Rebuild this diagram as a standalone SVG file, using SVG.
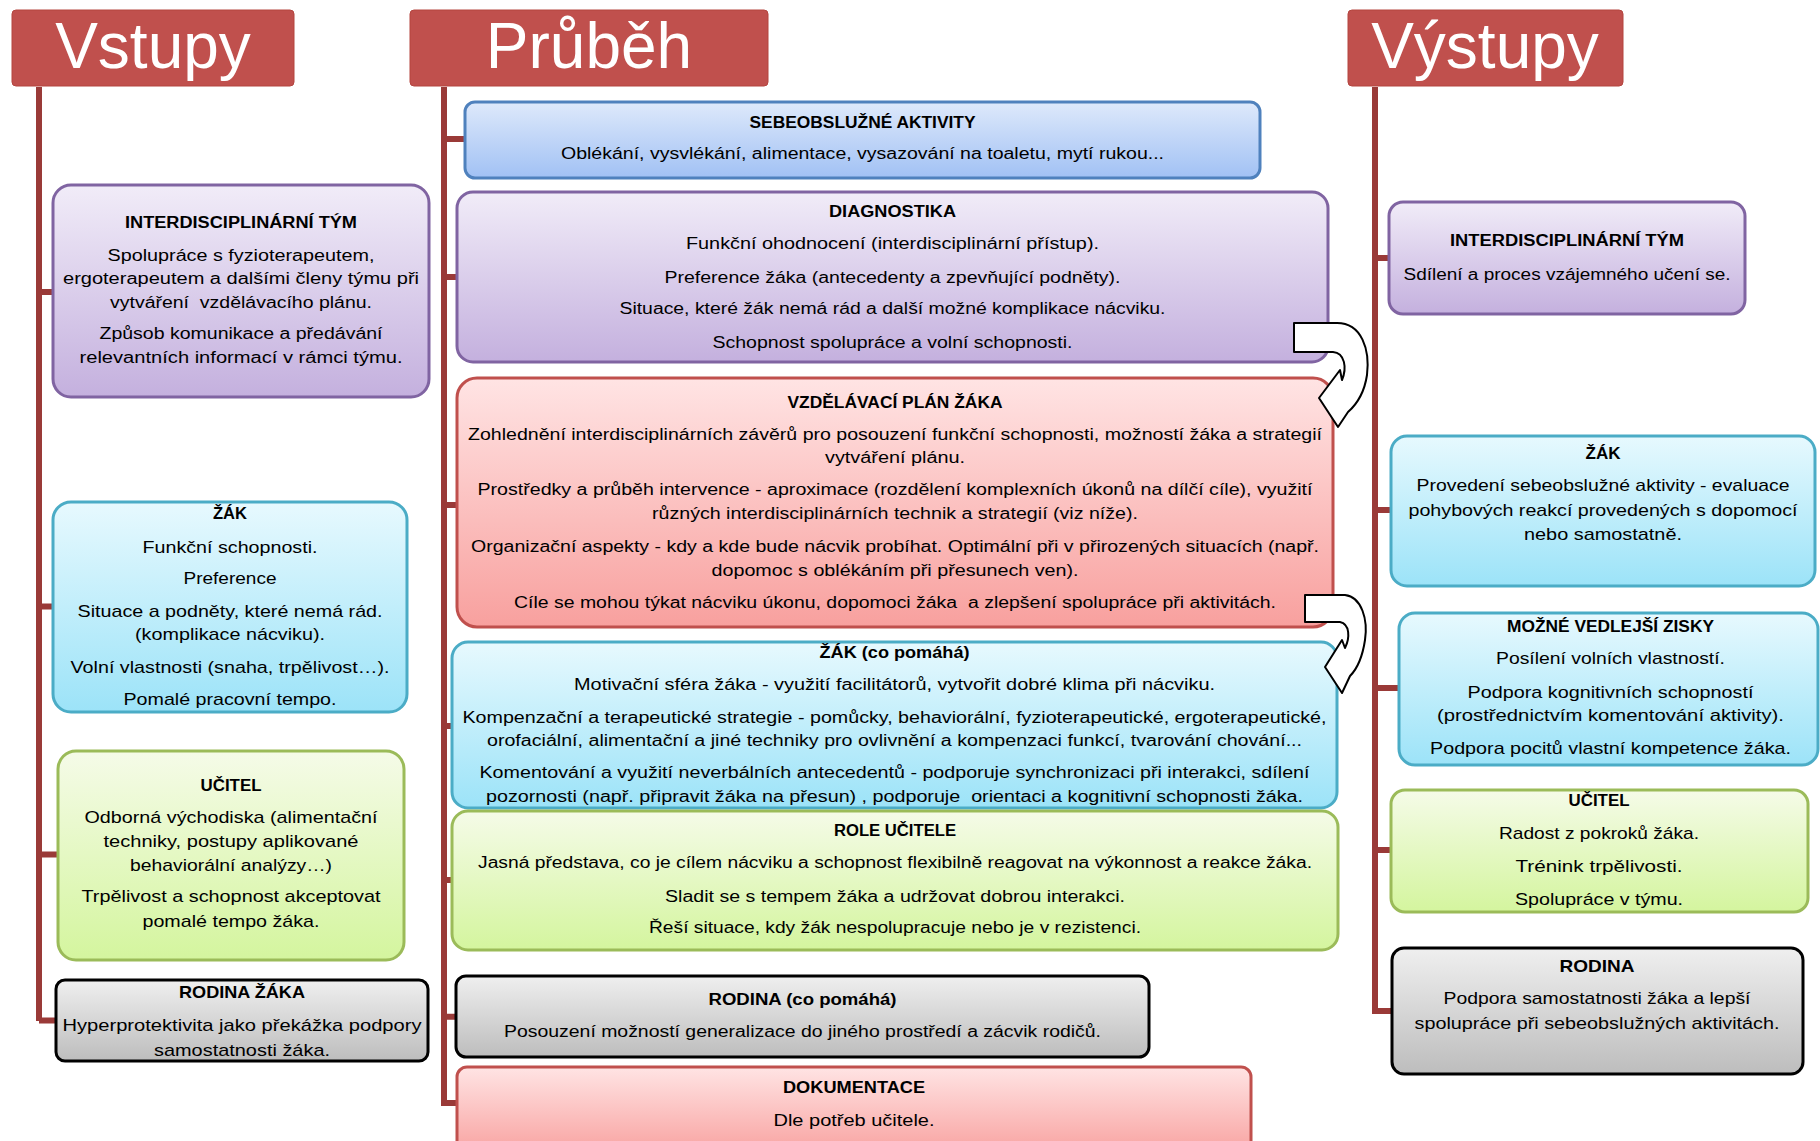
<svg xmlns="http://www.w3.org/2000/svg" width="1820" height="1141" viewBox="0 0 1820 1141">
<defs>
<linearGradient id="gPur" x1="0" y1="0" x2="0" y2="1"><stop offset="0" stop-color="#F1ECF8"/><stop offset="1" stop-color="#C4B0DE"/></linearGradient>
<linearGradient id="gCyan" x1="0" y1="0" x2="0" y2="1"><stop offset="0" stop-color="#E7F9FE"/><stop offset="1" stop-color="#9CE3F8"/></linearGradient>
<linearGradient id="gGrn" x1="0" y1="0" x2="0" y2="1"><stop offset="0" stop-color="#F5FBE8"/><stop offset="1" stop-color="#D4F59E"/></linearGradient>
<linearGradient id="gPink" x1="0" y1="0" x2="0" y2="1"><stop offset="0" stop-color="#FFE4E4"/><stop offset="1" stop-color="#F8A09E"/></linearGradient>
<linearGradient id="gGray" x1="0" y1="0" x2="0" y2="1"><stop offset="0" stop-color="#EFEFEF"/><stop offset="1" stop-color="#BDBDBD"/></linearGradient>
<linearGradient id="gBlue" x1="0" y1="0" x2="0" y2="1"><stop offset="0" stop-color="#DEE9FB"/><stop offset="1" stop-color="#A1C1F4"/></linearGradient>
</defs>
<style>
text{font-family:"Liberation Sans",Arial,sans-serif;font-size:16px;fill:#000;text-anchor:middle}
.b{font-weight:bold}
.w{font-size:17px}
.hdr{font-size:64px;fill:#fff}
.hbox{fill:#C0504D;stroke:#B4453F;stroke-width:1}
.pur{fill:url(#gPur);stroke:#8064A2;stroke-width:3}
.cyan{fill:url(#gCyan);stroke:#4BACC6;stroke-width:3}
.grn{fill:url(#gGrn);stroke:#9BBB59;stroke-width:3}
.pink{fill:url(#gPink);stroke:#C0504D;stroke-width:3}
.gray{fill:url(#gGray);stroke:#000;stroke-width:3}
.blue{fill:url(#gBlue);stroke:#4F81BD;stroke-width:3}
.ln{fill:none;stroke:#9A3A38;stroke-width:6}
.arr{fill:#fff;stroke:#000;stroke-width:2;stroke-linejoin:round}
</style>

<g id="connectors">
<path class="ln" d="M39,87 V1021 M39,292 H54 M39,606.5 H54 M39,854.6 H59 M39,1020.5 H57"/>
<path class="ln" d="M444,87 V1106 M444,139 H466 M444,277 H458 M444,505 H458 M444,726 H453 M444,880 H453 M444,1016.7 H457 M444,1103 H458"/>
<path class="ln" d="M1375,87 V1014 M1375,258 H1390 M1375,510 H1392 M1375,688 H1400 M1375,850 H1392 M1375,1011 H1393"/>
</g>

<g id="hdr-vstupy"><rect class="hbox" x="12" y="10" width="282" height="76" rx="4"/><text class="hdr" x="153" y="68">Vstupy</text></g>
<g id="hdr-prubeh"><rect class="hbox" x="410" y="10" width="358" height="76" rx="4"/><text class="hdr" x="589" y="68">Průběh</text></g>
<g id="hdr-vystupy"><rect class="hbox" x="1348" y="10" width="275" height="76" rx="4"/><text class="hdr" x="1485" y="68">Výstupy</text></g>

<g id="in-tym"><rect class="pur" x="53" y="185" width="376" height="212" rx="18"/>
<text class="b" x="241" y="227.5" textLength="232" lengthAdjust="spacingAndGlyphs">INTERDISCIPLINÁRNÍ TÝM</text>
<text x="241" y="260.5" textLength="267" lengthAdjust="spacingAndGlyphs">Spolupráce s fyzioterapeutem,</text>
<text x="241" y="283.5" textLength="356" lengthAdjust="spacingAndGlyphs">ergoterapeutem a dalšími členy týmu při</text>
<text x="241" y="307.5" textLength="262" lengthAdjust="spacingAndGlyphs">vytváření&#160; vzdělávacího plánu.</text>
<text x="241" y="338.5" textLength="283" lengthAdjust="spacingAndGlyphs">Způsob komunikace a předávání</text>
<text x="241" y="362.5" textLength="323" lengthAdjust="spacingAndGlyphs">relevantních informací v rámci týmu.</text>
</g>

<g id="in-zak"><rect class="cyan" x="53" y="502" width="354" height="210" rx="18"/>
<text class="b w" x="230" y="518.5" textLength="34" lengthAdjust="spacingAndGlyphs">ŽÁK</text>
<text class="w" x="230" y="552.5" textLength="175" lengthAdjust="spacingAndGlyphs">Funkční schopnosti.</text>
<text class="w" x="230" y="584" textLength="93" lengthAdjust="spacingAndGlyphs">Preference</text>
<text class="w" x="230" y="617" textLength="305" lengthAdjust="spacingAndGlyphs">Situace a podněty, které nemá rád.</text>
<text class="w" x="230" y="640" textLength="190" lengthAdjust="spacingAndGlyphs">(komplikace nácviku).</text>
<text class="w" x="230" y="673" textLength="319" lengthAdjust="spacingAndGlyphs">Volní vlastnosti (snaha, trpělivost…).</text>
<text class="w" x="230" y="705" textLength="213" lengthAdjust="spacingAndGlyphs">Pomalé pracovní tempo.</text>
</g>

<g id="in-ucitel"><rect class="grn" x="58" y="751" width="346" height="209" rx="18"/>
<text class="b w" x="231" y="791" textLength="61" lengthAdjust="spacingAndGlyphs">UČITEL</text>
<text class="w" x="231" y="823" textLength="293" lengthAdjust="spacingAndGlyphs">Odborná východiska (alimentační</text>
<text class="w" x="231" y="847" textLength="255" lengthAdjust="spacingAndGlyphs">techniky, postupy aplikované</text>
<text class="w" x="231" y="870.6" textLength="202" lengthAdjust="spacingAndGlyphs">behaviorální analýzy…)</text>
<text class="w" x="231" y="902" textLength="299" lengthAdjust="spacingAndGlyphs">Trpělivost a schopnost akceptovat</text>
<text class="w" x="231" y="927" textLength="177" lengthAdjust="spacingAndGlyphs">pomalé tempo žáka.</text>
</g>

<g id="in-rodina"><rect class="gray" x="56" y="980" width="372" height="81" rx="9"/>
<text class="b w" x="242" y="997.5" textLength="126" lengthAdjust="spacingAndGlyphs">RODINA ŽÁKA</text>
<text class="w" x="242" y="1030.8" textLength="359" lengthAdjust="spacingAndGlyphs">Hyperprotektivita jako překážka podpory</text>
<text class="w" x="242" y="1055.8" textLength="176" lengthAdjust="spacingAndGlyphs">samostatnosti žáka.</text>
</g>

<g id="pr-sebe"><rect class="blue" x="465" y="102" width="795" height="76" rx="10"/>
<text class="b" x="862.5" y="128" textLength="226" lengthAdjust="spacingAndGlyphs">SEBEOBSLUŽNÉ AKTIVITY</text>
<text x="862.5" y="159" textLength="603" lengthAdjust="spacingAndGlyphs">Oblékání, vysvlékání, alimentace, vysazování na toaletu, mytí rukou...</text>
</g>

<g id="pr-diag"><rect class="pur" x="457" y="192" width="871" height="170" rx="16"/>
<text class="b" x="892.5" y="216.5" textLength="127" lengthAdjust="spacingAndGlyphs">DIAGNOSTIKA</text>
<text x="892.5" y="248.5" textLength="413" lengthAdjust="spacingAndGlyphs">Funkční ohodnocení (interdisciplinární přístup).</text>
<text x="892.5" y="282.5" textLength="456" lengthAdjust="spacingAndGlyphs">Preference žáka (antecedenty a zpevňující podněty).</text>
<text x="892.5" y="313.5" textLength="546" lengthAdjust="spacingAndGlyphs">Situace, které žák nemá rád a další možné komplikace nácviku.</text>
<text x="892.5" y="347.5" textLength="360" lengthAdjust="spacingAndGlyphs">Schopnost spolupráce a volní schopnosti.</text>
</g>

<g id="pr-plan"><rect class="pink" x="457" y="378" width="876" height="249" rx="20"/>
<text class="b" x="895" y="407.5" textLength="215" lengthAdjust="spacingAndGlyphs">VZDĚLÁVACÍ PLÁN ŽÁKA</text>
<text x="895" y="439.5" textLength="854" lengthAdjust="spacingAndGlyphs">Zohlednění interdisciplinárních závěrů pro posouzení funkční schopnosti, možností žáka a strategií</text>
<text x="895" y="462.5" textLength="140" lengthAdjust="spacingAndGlyphs">vytváření plánu.</text>
<text x="895" y="494.5" textLength="835" lengthAdjust="spacingAndGlyphs">Prostředky a průběh intervence - aproximace (rozdělení komplexních úkonů na dílčí cíle), využití</text>
<text x="895" y="518.5" textLength="486" lengthAdjust="spacingAndGlyphs">různých interdisciplinárních technik a strategií (viz níže).</text>
<text x="895" y="551.5" textLength="848" lengthAdjust="spacingAndGlyphs">Organizační aspekty - kdy a kde bude nácvik probíhat. Optimální při v přirozených situacích (např.</text>
<text x="895" y="575.5" textLength="367" lengthAdjust="spacingAndGlyphs">dopomoc s oblékáním při přesunech ven).</text>
<text x="895" y="607.5" textLength="762" lengthAdjust="spacingAndGlyphs">Cíle se mohou týkat nácviku úkonu, dopomoci žáka&#160; a zlepšení spolupráce při aktivitách.</text>
</g>

<g id="pr-zak"><rect class="cyan" x="452" y="642" width="885" height="166" rx="16"/>
<text class="b" x="894.5" y="658" textLength="150" lengthAdjust="spacingAndGlyphs">ŽÁK (co pomáhá)</text>
<text x="894.5" y="689.5" textLength="641" lengthAdjust="spacingAndGlyphs">Motivační sféra žáka - využití facilitátorů, vytvořit dobré klima při nácviku.</text>
<text x="894.5" y="723" textLength="864" lengthAdjust="spacingAndGlyphs">Kompenzační a terapeutické strategie - pomůcky, behaviorální, fyzioterapeutické, ergoterapeutické,</text>
<text x="894.5" y="746" textLength="815" lengthAdjust="spacingAndGlyphs">orofaciální, alimentační a jiné techniky pro ovlivnění a kompenzaci funkcí, tvarování chování...</text>
<text x="894.5" y="778" textLength="830" lengthAdjust="spacingAndGlyphs">Komentování a využití neverbálních antecedentů - podporuje synchronizaci při interakci, sdílení</text>
<text x="894.5" y="802" textLength="817" lengthAdjust="spacingAndGlyphs">pozornosti (např. připravit žáka na přesun) , podporuje&#160; orientaci a kognitivní schopnosti žáka.</text>
</g>

<g id="pr-role"><rect class="grn" x="452" y="811" width="886" height="139" rx="16"/>
<text class="b" x="895" y="835.5" textLength="122" lengthAdjust="spacingAndGlyphs">ROLE UČITELE</text>
<text x="895" y="868" textLength="834" lengthAdjust="spacingAndGlyphs">Jasná představa, co je cílem nácviku a schopnost flexibilně reagovat na výkonnost a reakce žáka.</text>
<text x="895" y="901.5" textLength="460" lengthAdjust="spacingAndGlyphs">Sladit se s tempem žáka a udržovat dobrou interakci.</text>
<text x="895" y="932.5" textLength="492" lengthAdjust="spacingAndGlyphs">Řeší situace, kdy žák nespolupracuje nebo je v rezistenci.</text>
</g>

<g id="pr-rodina"><rect class="gray" x="456" y="976" width="693" height="81" rx="10"/>
<text class="b" x="802.5" y="1004.5" textLength="188" lengthAdjust="spacingAndGlyphs">RODINA (co pomáhá)</text>
<text x="802.5" y="1037" textLength="597" lengthAdjust="spacingAndGlyphs">Posouzení možností generalizace do jiného prostředí a zácvik rodičů.</text>
</g>

<g id="pr-dok"><rect class="pink" x="457" y="1067" width="794" height="90" rx="10"/>
<text class="b" x="854" y="1092.5" textLength="142" lengthAdjust="spacingAndGlyphs">DOKUMENTACE</text>
<text x="854" y="1125.5" textLength="161" lengthAdjust="spacingAndGlyphs">Dle potřeb učitele.</text>
</g>

<g id="arrow-1"><path class="arr" d="M1294,323 L1337,323 C1362,323 1370,350 1367,375 C1364,395 1356,405 1348,412 L1338,427 L1319,398 L1340,370 L1342,380 C1347,368 1345,353 1333,352 L1294,352 Z"/></g>
<g id="arrow-2"><path class="arr" d="M1305,595 L1345,595 C1362,597 1368,620 1365,640 C1362,660 1356,670 1350,676 L1342,693 L1325,667 L1342,640 L1345,648 C1350,638 1350,624 1340,622 L1305,622 Z"/></g>

<g id="out-tym"><rect class="pur" x="1389" y="202" width="356" height="112" rx="14"/>
<text class="b" x="1567" y="246" textLength="234" lengthAdjust="spacingAndGlyphs">INTERDISCIPLINÁRNÍ TÝM</text>
<text x="1567" y="279.5" textLength="327" lengthAdjust="spacingAndGlyphs">Sdílení a proces vzájemného učení se.</text>
</g>

<g id="out-zak"><rect class="cyan" x="1391" y="436" width="424" height="150" rx="16"/>
<text class="b w" x="1603" y="458.5" textLength="35" lengthAdjust="spacingAndGlyphs">ŽÁK</text>
<text class="w" x="1603" y="491" textLength="373" lengthAdjust="spacingAndGlyphs">Provedení sebeobslužné aktivity - evaluace</text>
<text class="w" x="1603" y="516" textLength="389" lengthAdjust="spacingAndGlyphs">pohybových reakcí provedených s dopomocí</text>
<text class="w" x="1603" y="540" textLength="158" lengthAdjust="spacingAndGlyphs">nebo samostatně.</text>
</g>

<g id="out-zisky"><rect class="cyan" x="1399" y="613" width="419" height="152" rx="16"/>
<text class="b w" x="1610.5" y="632" textLength="207" lengthAdjust="spacingAndGlyphs">MOŽNÉ VEDLEJŠÍ ZISKY</text>
<text class="w" x="1610.5" y="664" textLength="229" lengthAdjust="spacingAndGlyphs">Posílení volních vlastností.</text>
<text class="w" x="1610.5" y="697.5" textLength="286" lengthAdjust="spacingAndGlyphs">Podpora kognitivních schopností</text>
<text class="w" x="1610.5" y="721" textLength="347" lengthAdjust="spacingAndGlyphs">(prostřednictvím komentování aktivity).</text>
<text class="w" x="1610.5" y="753.5" textLength="361" lengthAdjust="spacingAndGlyphs">Podpora pocitů vlastní kompetence žáka.</text>
</g>

<g id="out-ucitel"><rect class="grn" x="1391" y="790" width="417" height="122" rx="14"/>
<text class="b w" x="1599" y="806" textLength="61" lengthAdjust="spacingAndGlyphs">UČITEL</text>
<text class="w" x="1599" y="838.5" textLength="200" lengthAdjust="spacingAndGlyphs">Radost z pokroků žáka.</text>
<text class="w" x="1599" y="871.5" textLength="167" lengthAdjust="spacingAndGlyphs">Trénink trpělivosti.</text>
<text class="w" x="1599" y="904.5" textLength="168" lengthAdjust="spacingAndGlyphs">Spolupráce v týmu.</text>
</g>

<g id="out-rodina"><rect class="gray" x="1392" y="948" width="411" height="126" rx="12"/>
<text class="b w" x="1597" y="972" textLength="75" lengthAdjust="spacingAndGlyphs">RODINA</text>
<text class="w" x="1597" y="1004" textLength="307" lengthAdjust="spacingAndGlyphs">Podpora samostatnosti žáka a lepší</text>
<text class="w" x="1597" y="1029" textLength="365" lengthAdjust="spacingAndGlyphs">spolupráce při sebeobslužných aktivitách.</text>
</g>
</svg>
